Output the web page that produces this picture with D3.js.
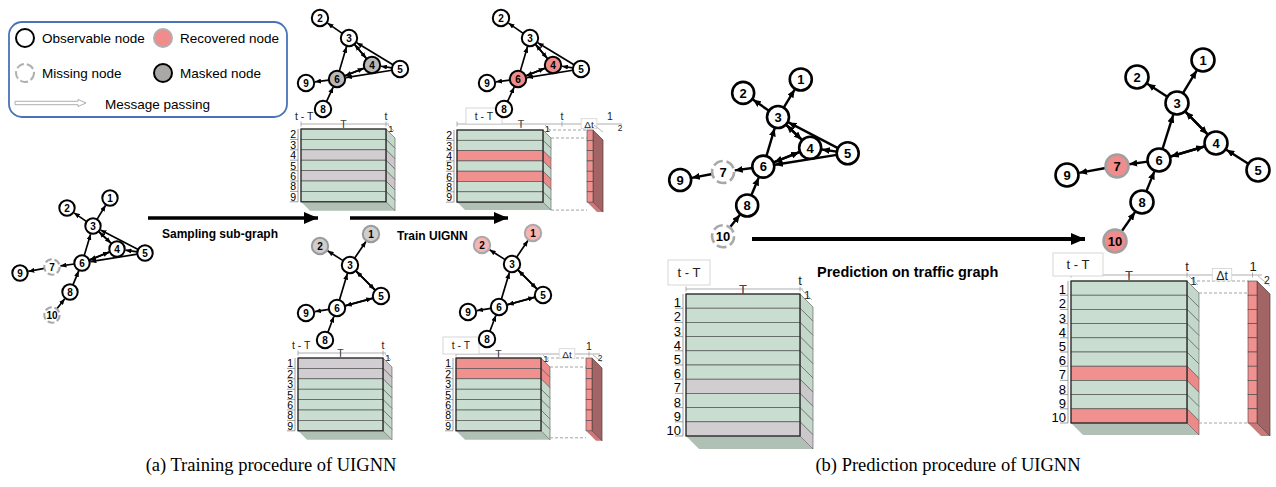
<!DOCTYPE html>
<html>
<head>
<meta charset="utf-8">
<script src="https://cdn.jsdelivr.net/npm/d3@7"></script>
<style>
  body { margin: 0; background: #fff; }
  svg { display: block; font-family: "Liberation Sans", Arial, sans-serif; }
</style>
</head>
<body>
<svg id="fig" width="1276" height="487"></svg>
<script>
// --------------------------------------------------------------------------------------
// data
// --------------------------------------------------------------------------------------
var idsFull = [1, 2, 3, 4, 5, 6, 7, 8, 9, 10];
var idsSub1 = [2, 3, 4, 5, 6, 8, 9];
var idsSub2 = [1, 2, 3, 5, 6, 8, 9];

// node layouts (graph units, node 3 is the origin), same order as the id lists
var layoutFull = [[17,-28],[-26,-18],[0,0],[24,23],[52,27],[-11,37],[-41,41],[-23,66],[-73,47],[-41,89]];
var layoutSub1 = [[-29,-20],[0,0],[23,27],[51,31],[-12,41],[-26,71],[-43,45]];
var layoutSub2 = [[21,-31],[-30,-19],[0,0],[31,31],[-13,43],[-25,75],[-44,48]];
var layoutRec  = [[26,-43],[-40,-26],[0,0],[39,40],[81,67],[-18,57],[-60,63],[-35,99],[-110,72],[-62,138]];

// edges: [from, to, both directions]
var edgesFull = [[3,1],[3,2],[3,4,1],[5,3],[5,4],[5,6],[6,3],[6,4,1],[6,7],[7,9],[8,6],[10,8]];
var edgesSub1 = [[3,2],[3,4,1],[5,3],[5,4],[5,6],[6,3],[6,4,1],[6,9],[8,6]];
var edgesSub2 = [[3,1],[3,2],[3,5,1],[6,3],[6,5,1],[6,9],[8,6]];
var edgesRec  = [[3,1],[3,2],[3,4,1],[5,4],[6,3],[6,4,1],[6,7],[7,9],[8,6],[10,8]];

var missingIds  = [7, 10];
var maskedSub1  = [4, 6];
var maskedSub2  = [1, 2];

// matrices: row labels and row state (o = observed, m = masked / missing, r = recovered)
var rowsSub1 = ['2','3','4','5','6','8','9'];
var rowsSub2 = ['1','2','3','5','6','8','9'];
var rowsFull = ['1','2','3','4','5','6','7','8','9','10'];
var stateA = ['o','o','m','o','m','o','o'];
var stateB = ['o','o','r','o','r','o','o'];
var stateC = ['m','m','o','o','o','o','o'];
var stateD = ['r','r','o','o','o','o','o'];
var stateP = ['o','o','o','o','o','o','m','o','o','m'];
var stateR = ['o','o','o','o','o','o','r','o','o','r'];

var windowLabels = ['t - T', 'T', 't', '1'];
var outLabels = ['\u0394t', '1', '2'];

var legendItems = ['Observable node', 'Recovered node', 'Missing node', 'Masked node', 'Message passing'];
var stepLabels = ['Sampling sub-graph', 'Train UIGNN', 'Prediction on traffic graph'];
var captions = ['(a) Training procedure of UIGNN', '(b) Prediction procedure of UIGNN'];

// --------------------------------------------------------------------------------------
var svg = d3.select('#fig');
var defs = svg.append('defs');
var rowColor = { o: '#c9ddd0', m: '#d1cdd0', r: '#f0908f' };
var sideColor = { o: '#c3d8ca', m: '#cbc7ca', r: '#ec8a89' };

function add_marker(id, w, h) {
  defs.append('marker')
      .attr('id', id)
      .attr('viewBox', '0 0 10 10')
      .attr('refX', 10).attr('refY', 5)
      .attr('markerUnits', 'userSpaceOnUse')
      .attr('markerWidth', w).attr('markerHeight', h)
      .attr('preserveAspectRatio', 'none')
      .attr('orient', 'auto')
    .append('path')
      .attr('d', 'M0,0L10,5L0,10Z')
      .attr('fill', '#000');
}
add_marker('ah-s', 6, 5);
add_marker('ah-b', 8, 7);
add_marker('ah-x', 14, 12);

function poly(pts) {
  return 'M' + pts.map(function(p) { return p[0] + ',' + p[1]; }).join('L') + 'Z';
}

// --------------------------------------------------------------------------------------
// matrix with 3d side, bottom face, time axis and optional output column
// --------------------------------------------------------------------------------------
function draw_matrix(rows, states, o) {
  var g = svg.append('g');
  var n = rows.length;
  var y = d3.scaleBand().domain(rows).range([o.y, o.y + n * o.rh]);
  var xl = o.x, xr = o.x + o.w, d = o.d, yb = o.y + n * o.rh;
  var y0 = o.y - o.ay;

  // bottom face
  g.append('path')
   .attr('d', poly([[xl, yb], [xr, yb], [xr + d, yb + d], [xl + d, yb + d]]))
   .attr('fill', '#b0c0b5');

  // side faces
  rows.forEach(function(r, i) {
    var t = y(r), b = y(r) + y.bandwidth();
    g.append('path')
     .attr('d', poly([[xr, t], [xr + d, t + d], [xr + d, b + d], [xr, b]]))
     .attr('fill', sideColor[states[i]])
     .attr('stroke', '#555').attr('stroke-width', 0.6);
  });

  // front rows
  rows.forEach(function(r, i) {
    g.append('rect')
     .attr('x', xl).attr('y', y(r))
     .attr('width', o.w).attr('height', y.bandwidth())
     .attr('fill', rowColor[states[i]])
     .attr('stroke', '#555').attr('stroke-width', 0.7);
  });
  g.append('rect')
   .attr('x', xl).attr('y', o.y).attr('width', o.w).attr('height', yb - o.y)
   .attr('fill', 'none').attr('stroke', '#222').attr('stroke-width', 1.1);

  // row labels with brackets
  g.append('line')
   .attr('x1', xl - 3).attr('x2', xl - 3).attr('y1', o.y).attr('y2', yb)
   .attr('stroke', '#777').attr('stroke-width', 0.7);
  rows.forEach(function(r) {
    var b = y(r) + y.bandwidth();
    g.append('line')
     .attr('x1', xl - 11).attr('x2', xl - 3).attr('y1', b).attr('y2', b)
     .attr('stroke', '#777').attr('stroke-width', 0.7);
    g.append('text')
     .attr('x', xl - 5).attr('y', b - 1)
     .attr('text-anchor', 'end')
     .style('font-size', o.fs + 'px')
     .text(r);
  });

  // time axis
  var axEnd = o.out ? o.out.end : xr + 3;
  g.append('line')
   .attr('x1', xl).attr('x2', axEnd).attr('y1', y0).attr('y2', y0)
   .attr('stroke', '#999').attr('stroke-width', 0.8);
  var tx = o.tx === undefined ? xr : o.tx;
  var Tx = o.Tx === undefined ? (xl + xr) / 2 : o.Tx;
  [xl, Tx, tx].forEach(function(v) {
    if (v === null) return;
    g.append('line')
     .attr('x1', v).attr('x2', v).attr('y1', y0 - 2.5).attr('y2', y0 + 2.5)
     .attr('stroke', '#999').attr('stroke-width', 0.8);
  });
  if (o.box) {
    g.append('rect')
     .attr('x', xl + o.box[0]).attr('y', o.y + o.box[1])
     .attr('width', o.box[2]).attr('height', o.box[3])
     .attr('fill', '#fff').attr('stroke', '#ccc').attr('stroke-width', 0.8);
    g.append('text')
     .attr('x', xl + o.box[0] + o.box[2] / 2).attr('y', o.y + o.box[1] + o.box[3] / 2)
     .attr('dy', '0.36em').attr('text-anchor', 'middle')
     .style('font-size', o.fs + 'px').style('fill', '#222')
     .text(windowLabels[0]);
  } else {
    g.append('text')
     .attr('x', xl - 6).attr('y', y0 - 4)
     .style('font-size', o.fs + 'px').style('fill', '#222')
     .text(windowLabels[0]);
  }
  g.append('text')
   .attr('x', Tx).attr('y', y0 + o.fs * 0.36)
   .attr('text-anchor', 'middle')
   .style('font-size', o.fs + 'px').style('fill', '#444')
   .text(windowLabels[1]);
  if (tx !== null) {
    g.append('text')
     .attr('x', tx).attr('y', y0 - 4)
     .attr('text-anchor', 'middle')
     .style('font-size', o.fs + 'px').style('fill', '#222')
     .text(windowLabels[2]);
  }
  g.append('line')
   .attr('x1', xr + 2).attr('y1', y0 + 1).attr('x2', xr + d - 1).attr('y2', y0 + d - 2)
   .attr('stroke', '#999').attr('stroke-width', 0.7);
  g.append('text')
   .attr('x', xr + d * 0.55).attr('y', y0 + o.fs * 0.75)
   .attr('text-anchor', 'middle')
   .style('font-size', (o.fs * 0.9) + 'px').style('fill', '#222')
   .text(windowLabels[3]);

  if (!o.out) return;

  // output column
  var c = o.out;
  var yc = d3.scaleBand().domain(rows).range([o.y, yb]);
  [[o.y, xr + 5], [o.y + d, xr + d], [yb + c.bd, xr + d]].forEach(function(p) {
    g.append('line')
     .attr('x1', p[1]).attr('x2', c.x).attr('y1', p[0]).attr('y2', p[0])
     .attr('stroke', '#999').attr('stroke-width', 0.9)
     .attr('stroke-dasharray', '3,2');
  });
  g.append('path')
   .attr('d', poly([[c.x, yb], [c.x + c.w, yb], [c.x + c.w + c.d, yb + c.d], [c.x + c.d, yb + c.d]]))
   .attr('fill', '#c97a7a');
  g.append('path')
   .attr('d', poly([[c.x + c.w, o.y], [c.x + c.w + c.d, o.y + c.d], [c.x + c.w + c.d, yb + c.d], [c.x + c.w, yb]]))
   .attr('fill', '#a26464').attr('stroke', '#5a3a3a').attr('stroke-width', 0.7);
  rows.forEach(function(r) {
    g.append('rect')
     .attr('x', c.x).attr('y', yc(r))
     .attr('width', c.w).attr('height', yc.bandwidth())
     .attr('fill', rowColor.r)
     .attr('stroke', '#444').attr('stroke-width', 0.6);
  });
  [c.x + c.w / 2].forEach(function(v) {
    g.append('line')
     .attr('x1', v).attr('x2', v).attr('y1', y0 - 2.5).attr('y2', y0 + 2.5)
     .attr('stroke', '#999').attr('stroke-width', 0.8);
  });
  g.append('rect')
   .attr('x', c.dt - o.fs * 0.75).attr('y', y0 - o.fs * 0.5)
   .attr('width', o.fs * 1.5).attr('height', o.fs * 0.95)
   .attr('fill', '#fff').attr('stroke', '#ccc').attr('stroke-width', 0.7);
  g.append('text')
   .attr('x', c.dt).attr('y', y0 + o.fs * 0.36)
   .attr('text-anchor', 'middle')
   .style('font-size', (o.fs * 0.95) + 'px').style('fill', '#222')
   .text(outLabels[0]);
  g.append('text')
   .attr('x', c.one).attr('y', y0 - 4)
   .attr('text-anchor', 'middle')
   .style('font-size', o.fs + 'px').style('fill', '#222')
   .text(outLabels[1]);
  g.append('line')
   .attr('x1', c.x + c.w + 1).attr('y1', y0 + 1).attr('x2', c.x + c.w + c.d).attr('y2', y0 + c.d - 2)
   .attr('stroke', '#999').attr('stroke-width', 0.7);
  g.append('text')
   .attr('x', c.two).attr('y', y0 + o.fs * 0.7)
   .attr('text-anchor', 'middle')
   .style('font-size', (o.fs * 0.8) + 'px').style('fill', '#222')
   .text(outLabels[2]);
}

// --------------------------------------------------------------------------------------
// graph with arrows
// --------------------------------------------------------------------------------------
function draw_graph(ids, layout, edges, o) {
  var sx = d3.scaleLinear().domain([0, 1]).range([o.x, o.x + o.k]);
  var sy = d3.scaleLinear().domain([0, 1]).range([o.y, o.y + o.k]);
  var pos = {};
  ids.forEach(function(id, i) { pos[id] = [sx(layout[i][0]), sy(layout[i][1])]; });
  var g = svg.append('g');

  function seg(a, b) {
    var dx = b[0] - a[0], dy = b[1] - a[1];
    var len = Math.sqrt(dx * dx + dy * dy), ux = dx / len, uy = dy / len;
    g.append('line')
     .attr('x1', a[0] + ux * o.r).attr('y1', a[1] + uy * o.r)
     .attr('x2', b[0] - ux * (o.r + 0.8)).attr('y2', b[1] - uy * (o.r + 0.8))
     .attr('stroke', '#000').attr('stroke-width', o.sw)
     .attr('marker-end', 'url(#' + o.marker + ')');
  }
  edges.forEach(function(e) {
    seg(pos[e[0]], pos[e[1]]);
    if (e[2]) seg(pos[e[1]], pos[e[0]]);
  });

  ids.forEach(function(id) {
    var p = pos[id];
    var miss = (o.missing || []).indexOf(id) >= 0;
    var spec = (o.special || []).indexOf(id) >= 0;
    var c = g.append('circle')
     .attr('cx', p[0]).attr('cy', p[1]).attr('r', o.r)
     .attr('fill', spec ? o.fill : '#fff')
     .attr('stroke', miss ? '#a8a8a8' : (spec ? o.stroke : '#000'))
     .attr('stroke-width', o.nsw);
    if (miss) c.attr('stroke-dasharray', (o.r * 0.9) + ',' + (o.r * 0.35));
    g.append('text')
     .attr('x', p[0]).attr('y', p[1])
     .attr('dy', '0.36em')
     .attr('text-anchor', 'middle')
     .style('font-size', o.fs + 'px')
     .style('font-weight', 'bold')
     .text(id);
  });
}

// --------------------------------------------------------------------------------------
// legend
// --------------------------------------------------------------------------------------
var lg = svg.append('g');
lg.append('rect')
  .attr('x', 9).attr('y', 22).attr('width', 278).attr('height', 95).attr('rx', 13)
  .attr('fill', '#fff').attr('stroke', '#4a72b8').attr('stroke-width', 1.8);
var legendSymbols = [
  { x: 25, y: 38, fill: '#fff', stroke: '#000', dash: null },
  { x: 163, y: 38, fill: '#f08c8c', stroke: '#b0b0b0', dash: null },
  { x: 25, y: 73, fill: '#fff', stroke: '#b0b0b0', dash: '8,3' },
  { x: 163, y: 73, fill: '#aaa7a7', stroke: '#000', dash: null }
];
legendSymbols.forEach(function(s, i) {
  lg.append('circle')
    .attr('cx', s.x).attr('cy', s.y).attr('r', 9)
    .attr('fill', s.fill).attr('stroke', s.stroke).attr('stroke-width', 2)
    .attr('stroke-dasharray', s.dash);
  lg.append('text')
    .attr('x', s.x + 17).attr('y', s.y + 5)
    .style('font-size', '13.5px')
    .text(legendItems[i]);
});
lg.append('path')
  .attr('d', 'M15,101.3L78,101.3L78,99.5L86,103L78,106.5L78,104.7L15,104.7Z')
  .attr('fill', '#fff').attr('stroke', '#9a9a9a').attr('stroke-width', 0.8);
lg.append('text')
  .attr('x', 105).attr('y', 109)
  .style('font-size', '13.5px')
  .text(legendItems[4]);

// --------------------------------------------------------------------------------------
// matrices
// --------------------------------------------------------------------------------------
draw_matrix(rowsSub1, stateA, { x: 301, y: 129, w: 85, rh: 10.4, d: 9, ay: 5, fs: 10.5 });
draw_matrix(rowsSub1, stateB, { x: 457, y: 130, w: 86, rh: 10.3, d: 8, ay: 6, fs: 10.5,
  box: [9, -22, 36, 16], Tx: 521, tx: 562,
  out: { x: 587, w: 6, d: 10, dt: 589, one: 610, two: 620, bd: 8, end: 622 } });
draw_matrix(rowsSub2, stateC, { x: 298, y: 358, w: 85, rh: 10.4, d: 9, ay: 5, fs: 10.5 });
draw_matrix(rowsSub2, stateD, { x: 456, y: 358, w: 85, rh: 10.4, d: 9, ay: 4, fs: 10.5,
  box: [-13, -21, 36, 17], tx: null,
  out: { x: 586, w: 6, d: 10, dt: 567, one: 589, two: 600, bd: 7, end: 600 } });
draw_matrix(rowsFull, stateP, { x: 686, y: 294, w: 114, rh: 14.2, d: 13, ay: 5, fs: 13,
  box: [-18, -34, 42, 25] });
draw_matrix(rowsFull, stateR, { x: 1071, y: 281, w: 116, rh: 14.2, d: 12, ay: 6, fs: 13,
  box: [-18, -28, 50, 23],
  out: { x: 1248, w: 9, d: 13, dt: 1222, one: 1253, two: 1267, bd: 0, end: 1262 } });

// --------------------------------------------------------------------------------------
// graphs
// --------------------------------------------------------------------------------------
var small = { k: 1, r: 7.7, sw: 1.7, nsw: 2, fs: 10, marker: 'ah-s' };
var big = { k: 1, r: 11, sw: 2.4, nsw: 2.6, fs: 13, marker: 'ah-b' };

draw_graph(idsFull, layoutFull, edgesFull, Object.assign({}, small, { x: 93, y: 226, missing: missingIds }));
draw_graph(idsSub1, layoutSub1, edgesSub1, Object.assign({}, small, { x: 349, y: 38, r: 8.2,
  special: maskedSub1, fill: '#b9b7b7', stroke: '#000' }));
draw_graph(idsSub1, layoutSub1, edgesSub1, Object.assign({}, small, { x: 530, y: 38, r: 8.2,
  special: maskedSub1, fill: '#f08c8c', stroke: '#000' }));
draw_graph(idsSub2, layoutSub2, edgesSub2, Object.assign({}, small, { x: 350, y: 265, r: 8.2,
  special: maskedSub2, fill: '#cfcdcd', stroke: '#9a9a9a' }));
draw_graph(idsSub2, layoutSub2, edgesSub2, Object.assign({}, small, { x: 512, y: 264, r: 8.2,
  special: maskedSub2, fill: '#f6b4b4', stroke: '#a8a8a8' }));
draw_graph(idsFull, layoutFull, edgesFull, Object.assign({}, big, { x: 778, y: 117, k: 1.34,
  missing: missingIds }));
draw_graph(idsFull, layoutRec, edgesRec, Object.assign({}, big, { x: 1177, y: 103, r: 11.5,
  special: missingIds, fill: '#f08c8c', stroke: '#a0a0a0' }));

// --------------------------------------------------------------------------------------
// step arrows and captions
// --------------------------------------------------------------------------------------
var steps = [
  { x1: 148, x2: 318, y: 218, sw: 3.5, tx: 162, ty: 238, fs: 12 },
  { x1: 350, x2: 508, y: 218, sw: 3.5, tx: 397, ty: 240, fs: 12 },
  { x1: 752, x2: 1085, y: 239, sw: 4, tx: 817, ty: 277, fs: 14.5 }
];
steps.forEach(function(s, i) {
  svg.append('line')
     .attr('x1', s.x1).attr('x2', s.x2).attr('y1', s.y).attr('y2', s.y)
     .attr('stroke', '#000').attr('stroke-width', s.sw)
     .attr('marker-end', 'url(#ah-x)');
  svg.append('text')
     .attr('x', s.tx).attr('y', s.ty)
     .style('font-size', s.fs + 'px').style('font-weight', 'bold')
     .text(stepLabels[i]);
});

[271, 948].forEach(function(cx, i) {
  svg.append('text')
     .attr('x', cx).attr('y', 471)
     .attr('text-anchor', 'middle')
     .style('font-family', '"Liberation Serif", "Times New Roman", serif')
     .style('font-size', '18.5px')
     .text(captions[i]);
});
</script>
</body>
</html>
